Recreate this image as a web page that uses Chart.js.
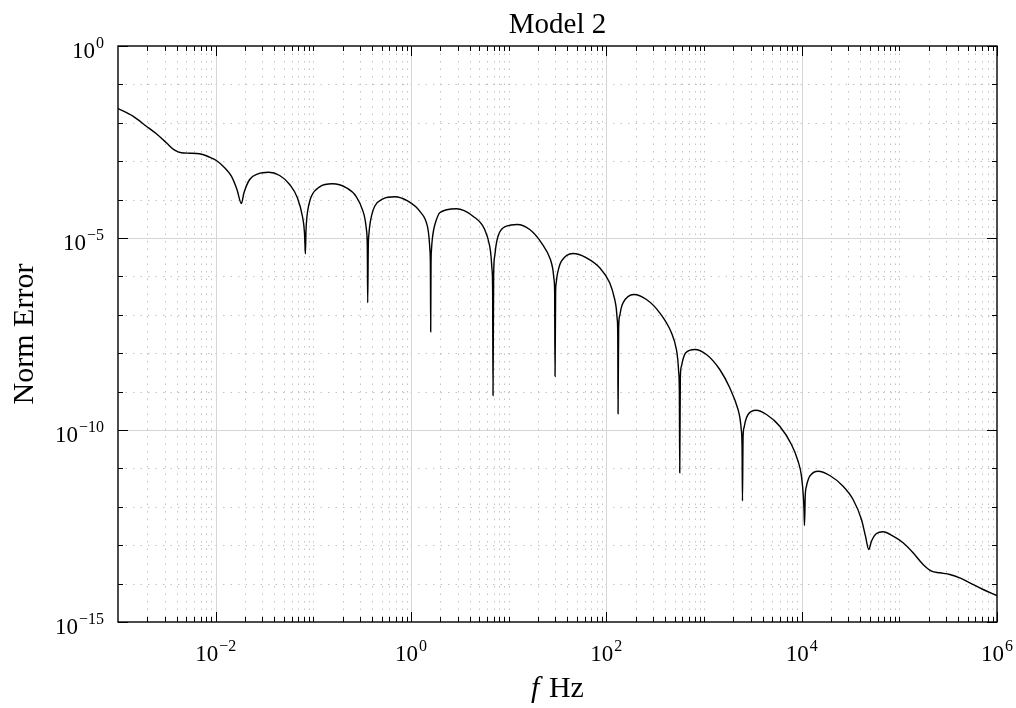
<!DOCTYPE html>
<html><head><meta charset="utf-8">
<script src="https://cdn.jsdelivr.net/npm/chart.js@4.4.1/dist/chart.umd.min.js"></script>
<style>html,body{margin:0;padding:0;background:#fff;}canvas{display:block;}</style>
</head><body>
<canvas id="c" width="1016" height="708"></canvas>
<script>
// ---- data ----
const freqHz = [
1.0e-3, 1.422e-3, 1.951e-3, 2.470e-3, 3.127e-3, 3.803e-3, 4.454e-3, 5.416e-3, 6.857e-3, 8.68e-3,
1.017e-2, 1.236e-2, 1.448e-2, 1.652e-2, 1.833e-2, 1.949e-2, 2.229e-2, 2.712e-2, 3.490e-2, 4.522e-2,
5.726e-2, 6.867e-2, 7.725e-2, 8.10e-2, 8.21e-2, 8.29e-2, 8.41e-2, 8.61e-2, 8.96e-2, 9.55e-2,
0.1161, 0.1567, 0.2180, 0.2760, 0.3224, 0.3380, 0.3494, 0.3569, 0.3603, 0.3654,
0.3706, 0.3776, 0.3958, 0.4250, 0.5168, 0.6810, 0.9318, 1.228, 1.472, 1.525,
1.561, 1.580, 1.591, 1.603, 1.621, 1.653, 1.708, 1.812, 1.967, 2.917,
4.314, 5.684, 6.395, 6.595, 6.753, 6.849, 6.914, 7.013, 7.195, 7.420,
7.778, 8.43, 9.482, 12.18, 16.43, 21.65, 26.77, 28.32, 29.14, 29.56,
29.84, 30.26, 30.69, 31.27, 32.63, 34.69, 45.60, 62.55, 85.58, 108.3,
121.9, 126.3, 129.3, 130.9, 131.8, 133.7, 137.2, 141.4, 148.3, 190.9,
257.5, 352.2, 464.2, 522.2, 538.4, 551.2, 559.2, 564.5, 572.5, 587.6,
605.8, 650.4, 804.0, 1059, 1450, 1835, 2232, 2334, 2407, 2453,
2476, 2512, 2571, 2658, 2826, 3413, 4361, 5966, 7862, 9187,
9954, 10433, 10582, 10683, 10886, 11200, 11548, 12104, 14720, 19397,
26546, 33606, 40965, 45030, 48660, 51854, 58345, 68168, 86298, 109240,
138300, 175100, 213400, 259600, 328600, 415900, 526600, 720800, 1e6];

const normError = [
2.357e-2, 1.485e-2, 8.155e-3, 5.171e-3, 3.015e-3, 1.934e-3, 1.654e-3, 1.615e-3, 1.558e-3, 1.271e-3,
1.043e-3, 6.731e-4, 4.068e-4, 1.832e-4, 7.912e-5, 1.504e-4, 3.337e-4, 4.697e-4, 5.171e-4, 4.243e-4,
2.473e-4, 1.114e-4, 3.695e-5, 1.477e-5, 6.77e-6, 3.877e-6, 1.521e-5, 3.695e-5, 7.02e-5, 1.226e-4,
2.154e-4, 2.579e-4, 2.029e-4, 1.183e-4, 4.987e-5, 3.124e-5, 1.665e-5, 6.005e-6, 2.054e-7, 6.377e-6,
1.233e-5, 2.029e-5, 3.948e-5, 6.731e-5, 1.049e-4, 1.183e-4, 9.085e-5, 4.987e-5, 2.029e-5, 1.114e-5,
5.017e-6, 1.922e-6, 3.608e-8, 2.041e-6, 5.017e-6, 9.42e-6, 1.665e-5, 2.889e-5, 4.531e-5, 5.760e-5,
3.695e-5, 1.665e-5, 6.115e-6, 3.398e-6, 1.512e-6, 5.140e-7, 7.912e-10, 1.055e-6, 3.357e-6, 6.301e-6,
1.114e-5, 1.665e-5, 2.029e-5, 2.247e-5, 1.665e-5, 7.499e-6, 2.755e-6, 1.540e-6, 8.304e-7, 4.045e-7,
2.518e-9, 4.045e-7, 6.813e-7, 1.012e-6, 1.665e-6, 2.488e-6, 3.948e-6, 3.051e-6, 1.675e-6, 6.813e-7,
2.503e-7, 1.495e-7, 7.544e-8, 3.258e-8, 2.642e-10, 4.586e-8, 9.59e-8, 1.433e-7, 2.054e-7, 3.378e-7,
2.503e-7, 1.127e-7, 3.398e-8, 1.248e-8, 6.936e-9, 3.088e-9, 1.068e-9, 7.68e-12, 2.371e-9, 4.586e-9,
6.572e-9, 1.024e-8, 1.248e-8, 9.251e-9, 3.762e-9, 1.256e-9, 3.42e-10, 2.029e-10, 1.030e-10, 3.718e-11,
1.416e-12, 6.301e-11, 1.162e-10, 1.716e-10, 2.533e-10, 3.278e-10, 2.533e-10, 1.256e-10, 4.192e-11, 1.540e-11,
6.263e-12, 1.695e-12, 7.544e-13, 3.258e-13, 1.969e-12, 3.440e-12, 4.697e-12, 6.263e-12, 8.455e-12, 6.533e-12,
3.440e-12, 1.549e-12, 4.669e-13, 1.716e-13, 7.727e-14, 1.271e-13, 2.017e-13, 2.234e-13, 1.716e-13, 1.155e-13,
6.341e-14, 3.144e-14, 2.103e-14, 1.911e-14, 1.726e-14, 1.416e-14, 1.049e-14, 7.02e-15, 4.899e-15];

// axis ticks / labels
const xMajorTicks = [1e-2, 1, 1e2, 1e4, 1e6];
const xMajorExps = ['\u22122', '0', '2', '4', '6'];
const yMajorTicks = [1, 1e-5, 1e-10, 1e-15];
const yMajorExps = ['0', '\u22125', '\u221210', '\u221215'];
const xDecades = [-3, -2, -1, 0, 1, 2, 3, 4, 5];
const xMinorMultipliers = [2, 3, 4, 5, 6, 7, 8, 9];
const yDecades = [-1, -2, -3, -4, -6, -7, -8, -9, -11, -12, -13, -14];
const titleText = 'Model 2';
const xLabelItalic = 'f';
const xLabelRest = ' Hz';
const yLabelText = 'Norm Error';

const FONT = '"Liberation Serif", "Times New Roman", serif';

function drawPow(ctx, base, exp, x, yBase, align) {
  ctx.font = '23px ' + FONT;
  const wb = ctx.measureText(base).width;
  ctx.font = '16px ' + FONT;
  const we = ctx.measureText(exp).width;
  const gap = 1;
  const total = wb + gap + we;
  const sx = align === 'center' ? x - total / 2 : x - total;
  ctx.textAlign = 'left';
  ctx.textBaseline = 'alphabetic';
  ctx.font = '23px ' + FONT;
  ctx.fillText(base, sx, yBase);
  ctx.font = '16px ' + FONT;
  ctx.fillText(exp, sx + wb + gap, yBase - 10);
}

function xMinorValues() {
  const out = [];
  xDecades.forEach(d => {
    const p = Math.pow(10, d);
    if (d % 2 !== 0 && d > -3) out.push(p);
    xMinorMultipliers.forEach(m => out.push(m * p));
  });
  return out;
}

const frame = {
  id: 'frame',
  beforeDatasetsDraw(chart) {
    const { ctx, chartArea: a, scales: { x, y } } = chart;
    ctx.save();
    ctx.lineWidth = 1;
    ctx.strokeStyle = '#c2c2c2';
    ctx.setLineDash([1.5, 6]);
    xMinorValues().forEach(v => {
      const px = Math.round(x.getPixelForValue(v)) + 0.5;
      if (px <= a.left + 1 || px >= a.right - 1) return;
      ctx.beginPath(); ctx.moveTo(px, a.top); ctx.lineTo(px, a.bottom); ctx.stroke();
    });
    yDecades.forEach(d => {
      const py = Math.round(y.getPixelForValue(Math.pow(10, d))) + 0.5;
      ctx.beginPath(); ctx.moveTo(a.left, py); ctx.lineTo(a.right, py); ctx.stroke();
    });
    ctx.setLineDash([]);
    ctx.strokeStyle = '#d6d6d6';
    xMajorTicks.forEach(v => {
      const px = Math.round(x.getPixelForValue(v)) + 0.5;
      if (px >= a.right - 1) return;
      ctx.beginPath(); ctx.moveTo(px, a.top); ctx.lineTo(px, a.bottom); ctx.stroke();
    });
    yMajorTicks.forEach(v => {
      const py = Math.round(y.getPixelForValue(v)) + 0.5;
      if (py <= a.top + 1 || py >= a.bottom - 1) return;
      ctx.beginPath(); ctx.moveTo(a.left, py); ctx.lineTo(a.right, py); ctx.stroke();
    });
    ctx.restore();
  },
  afterDatasetsDraw(chart) {
    const { ctx, chartArea: a, scales: { x, y } } = chart;
    ctx.save();
    ctx.strokeStyle = '#000';
    ctx.fillStyle = '#000';
    ctx.lineWidth = 1;
    const tickX = (v, len) => {
      const px = Math.round(x.getPixelForValue(v)) + 0.5;
      ctx.beginPath();
      ctx.moveTo(px, a.bottom); ctx.lineTo(px, a.bottom - len);
      ctx.moveTo(px, a.top); ctx.lineTo(px, a.top + len);
      ctx.stroke();
    };
    const tickY = (v, len) => {
      const py = Math.round(y.getPixelForValue(v)) + 0.5;
      ctx.beginPath();
      ctx.moveTo(a.left, py); ctx.lineTo(a.left + len, py);
      ctx.moveTo(a.right, py); ctx.lineTo(a.right - len, py);
      ctx.stroke();
    };
    xMinorValues().forEach(v => tickX(v, 5));
    xMajorTicks.forEach(v => tickX(v, 10));
    yDecades.forEach(d => tickY(Math.pow(10, d), 5));
    yMajorTicks.forEach(v => tickY(v, 10));
    ctx.lineWidth = 1.4;
    ctx.strokeRect(a.left, a.top, a.right - a.left, a.bottom - a.top);
    xMajorTicks.forEach((v, i) => drawPow(ctx, '10', xMajorExps[i], x.getPixelForValue(v), 661, 'center'));
    yMajorTicks.forEach((v, i) => drawPow(ctx, '10', yMajorExps[i], 104, y.getPixelForValue(v) + 12, 'right'));
    ctx.textAlign = 'center';
    ctx.textBaseline = 'alphabetic';
    ctx.font = '29px ' + FONT;
    const cx = (a.left + a.right) / 2;
    ctx.fillText(titleText, cx, 33);
    ctx.font = 'italic 30px ' + FONT;
    const w1 = ctx.measureText(xLabelItalic).width;
    ctx.font = '30px ' + FONT;
    const w2 = ctx.measureText(xLabelRest).width;
    const sx = cx - (w1 + w2 + 2) / 2;
    ctx.textAlign = 'left';
    ctx.font = 'italic 30px ' + FONT;
    ctx.fillText(xLabelItalic, sx, 697);
    ctx.font = '30px ' + FONT;
    ctx.fillText(xLabelRest, sx + w1 + 2, 697);
    ctx.translate(33, (a.top + a.bottom) / 2);
    ctx.rotate(-Math.PI / 2);
    ctx.textAlign = 'center';
    ctx.font = '30px ' + FONT;
    ctx.fillText(yLabelText, 0, 0);
    ctx.restore();
  }
};

new Chart(document.getElementById('c').getContext('2d'), {
  type: 'line',
  data: {
    datasets: [{
      data: freqHz.map((f, i) => ({ x: f, y: normError[i] })),
      borderColor: '#000',
      borderWidth: 1.4,
      pointRadius: 0,
      fill: false,
      cubicInterpolationMode: 'monotone'
    }]
  },
  options: {
    responsive: false,
    animation: false,
    devicePixelRatio: 1,
    layout: { padding: { left: 118, top: 46, right: 19, bottom: 86 } },
    scales: {
      x: { type: 'logarithmic', min: 1e-3, max: 1e6, display: false },
      y: { type: 'logarithmic', min: 1e-15, max: 1, display: false }
    },
    plugins: { legend: { display: false }, tooltip: { enabled: false }, title: { display: false } }
  },
  plugins: [frame]
});
</script>
</body></html>
